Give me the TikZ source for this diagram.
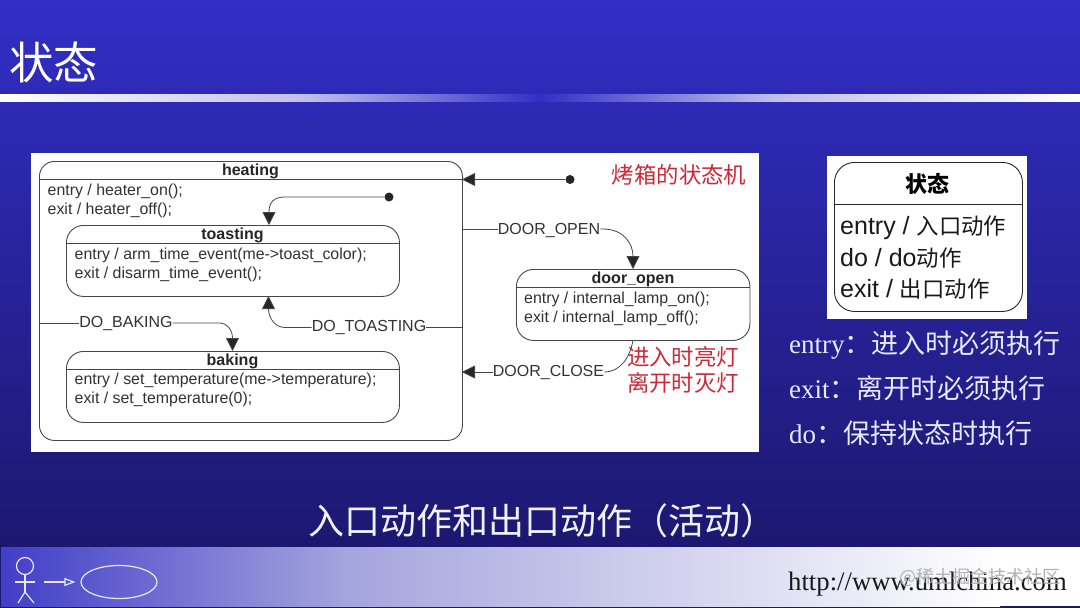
\documentclass[tikz,border=0pt]{standalone}
\usepackage{fontspec}
\setmainfont{Liberation Sans}
\newfontfamily\cjk{Noto Sans CJK SC}
\newfontfamily\serif{Liberation Serif}
\usetikzlibrary{arrows.meta,calc,positioning,shapes.geometric}
\definecolor{lineC}{RGB}{70,70,70}
\definecolor{txtC}{RGB}{50,50,50}
\definecolor{redC}{RGB}{205,40,55}
\definecolor{bgTop}{RGB}{50,46,198}
\definecolor{bgBot}{RGB}{28,24,112}
\definecolor{footL}{RGB}{66,62,200}
\definecolor{footM}{RGB}{165,165,222}
\definecolor{barM}{RGB}{190,190,236}
\definecolor{paleC}{RGB}{232,232,250}
\tikzset{
  x=1pt,y=-1pt,
  statebox/.style={draw=lineC,line width=0.9pt,rounded corners=#1,inner sep=0pt,anchor=north west},
  statebox/.default=17pt,
  sepline/.style={draw=lineC,line width=0.9pt},
  body/.style={font=\fontsize{15.9}{18.8}\selectfont,text=txtC,align=left,anchor=north west,inner sep=0pt},
  stname/.style={font=\bfseries\fontsize{16}{16}\selectfont,text=black!85,inner sep=0pt},
  evt/.style={font=\fontsize{16}{16}\selectfont,text=txtC,inner sep=0pt,fill=white},
  conn/.style={draw=lineC,line width=0.8pt},
  arr/.style={conn,-{Triangle[length=13pt,width=13pt,fill=black!85]}},
  redtxt/.style={font=\cjk\fontsize{22.4}{26}\selectfont,text=redC,inner sep=0pt,align=center},
  dotnode/.style={circle,fill=black!85,minimum size=9pt,inner sep=0pt},
  captxt/.style={font=\serif\fontsize{27}{27}\selectfont,text=paleC,inner sep=0pt,anchor=base west},
  chalk/.style={draw=paleC,line width=1.2pt},
}
\begin{document}
\begin{tikzpicture}
\useasboundingbox (0,0) rectangle (1080,608);
% background
\fill[top color=bgTop,bottom color=bgBot] (0,0) rectangle (1080,547);
\fill[bgBot] (0,547) rectangle (1080,608);
\node[font=\cjk\fontsize{44.5}{44.5}\selectfont,text=white,inner sep=0pt,anchor=west] (title) at (9,62) {状态};
\fill[left color=white,right color=barM] (0,94) rectangle (310,101);
\fill[left color=barM,right color=bgTop] (310,94) rectangle (540,101);
\fill[left color=bgTop,right color=barM] (540,94) rectangle (770,101);
\fill[left color=barM,right color=white] (770,94) rectangle (1080,101);
% panel
\fill[white] (31,153) rectangle (759,452);
% states
\node[statebox=15pt,minimum width=423pt,minimum height=279pt] (heating) at (39,161) {};
\draw[sepline] (39,179.5) coordinate (hl) -- (462,179.5) coordinate (hr);
\node[stname] (heatingN) at (250.5,171.5) {heating};
\node[body] (heatingB) at (47.5,184) {entry / heater\_on();\\exit / heater\_off();};
\node[statebox,minimum width=333pt,minimum height=71pt] (toasting) at (66,225) {};
\draw[sepline] (66,243.5) -- (399,243.5);
\node[stname] (toastingN) at (232.5,235.5) {toasting};
\node[body] (toastingB) at (74.5,248) {entry / arm\_time\_event(me->toast\_color);\\exit / disarm\_time\_event();};
\node[statebox,minimum width=333pt,minimum height=71pt] (baking) at (66,351) {};
\draw[sepline] (66,369) -- (399,369);
\node[stname] (bakingN) at (232.5,361.5) {baking};
\node[body] (bakingB) at (74.5,373) {entry / set\_temperature(me->temperature);\\exit / set\_temperature(0);};
\node[statebox,minimum width=233.5pt,minimum height=71pt] (door) at (516,269) {};
\draw[sepline] (516,287) -- (749.5,287);
\node[stname] (doorN) at (633,279.5) {door\_open};
\node[body] (doorB) at (524,292) {entry / internal\_lamp\_on();\\exit / internal\_lamp\_off();};
% initial states
\node[dotnode] (init1) at (570,179.5) {};
\draw[arr] (init1) -- (hr);
\node[dotnode] (init2) at (389,197) {};
\coordinate (t2) at (269,225);
\draw[arr] (init2) -- (285,197) .. controls (274,197) and (269,202) .. (t2);
% events
\node[evt,text depth=0pt] (open) at (549,229) {DOOR\_OPEN};
\coordinate (h1) at (462,229);
\coordinate (d1) at (633,269);
\draw[conn] (h1) -- (open.west |- h1);
\draw[arr] (open.east |- h1) -- (603,229) .. controls (623,229) and (633,243) .. (d1);
\node[evt] (baked) at (126,323) {DO\_BAKING};
\coordinate (h2) at (39,323);
\coordinate (b1) at (232.5,351);
\draw[conn] (h2) -- (baked.west |- h2);
\draw[arr] (baked.east |- h2) -- (220,323) .. controls (227,323) and (232.5,330) .. (b1);
\node[evt] (toast) at (369,327.5) {DO\_TOASTING};
\coordinate (h3) at (462,327.5);
\coordinate (t1) at (268.5,296);
\draw[conn] (h3) -- (toast.east |- h3);
\draw[arr] (toast.west |- h3) -- (285,327.5) .. controls (275,327.5) and (268.5,318) .. (t1);
\node[evt] (close) at (548.5,372) {DOOR\_CLOSE};
\coordinate (d2) at (633,340);
\coordinate (h4) at (462,372);
\draw[conn] (d2) .. controls (630,358) and (620,372) .. (close.east |- h4);
\draw[arr] (close.west |- h4) -- (h4);
% red notes
\node[redtxt] (n1) at (679,175) {烤箱的状态机};
\node[redtxt] (n2) at (683,370) {进入时亮灯\\离开时灭灯};
% state legend
\fill[white] (827,156) rectangle (1027,319);
\node[statebox=20pt,draw=black!85,minimum width=188pt,minimum height=149pt] (legend) at (834,162) {};
\draw[draw=black!85,line width=0.8pt] (834,204.5) -- (1022,204.5);
\node[font=\cjk\bfseries\fontsize{22}{22}\selectfont,text=black,inner sep=0pt] (legendN) at (927,184) {状态};
\node[font=\fontsize{25}{31.5}\selectfont,text=black!90,align=left,anchor=north west,inner sep=0pt] (legendB) at (840,216)
  {entry / {\cjk\fontsize{22.4}{31.5}\selectfont 入口动作}\\do / do{\cjk\fontsize{22.4}{31.5}\selectfont 动作}\\exit / {\cjk\fontsize{22.4}{31.5}\selectfont 出口动作}};
% captions
\node[captxt] (c1) at (789,353) {entry{\cjk ：进入时必须执行}};
\node[captxt] (c2) at (789,398) {exit{\cjk ：离开时必须执行}};
\node[captxt] (c3) at (789,443) {do{\cjk ：保持状态时执行}};
\node[font=\cjk\fontsize{36}{36}\selectfont,text=white!95!blue,inner sep=0pt] (bottomcap) at (542.5,521) {入口动作和出口动作（活动）};
% footer
\fill[left color=footL,right color=footM] (1,547) rectangle (350,606);
\fill[left color=footM,right color=white] (350,547) rectangle (1000,606);
\fill[white] (1000,547) rectangle (1080,606);
\node[chalk,circle,minimum size=17pt,inner sep=0pt] (head) at (25,566) {};
\coordinate (feet) at (25,592);
\coordinate (armL) at (15,582);
\coordinate (armR) at (35,582);
\coordinate (legL) at (18,603);
\coordinate (legR) at (34,603);
\draw[chalk] (head.south) -- (feet);
\draw[chalk] (armL) -- (armR);
\draw[chalk] (legL) -- (feet) -- (legR);
\node[chalk,ellipse,minimum width=76pt,minimum height=33pt,inner sep=0pt] (usecase) at (119,582) {};
\coordinate (arrowStart) at (44,582);
\draw[chalk,-{Triangle[open,length=11pt,width=8pt]},shorten >=5pt] (arrowStart) -- (usecase.west);
\node[font=\serif\fontsize{26.7}{27}\selectfont,text=black!90,inner sep=0pt,anchor=base west] (url) at (788,590.5) {http://www.umlchina.com};
\node[font=\cjk\fontsize{18}{18}\selectfont,text=black!30,inner sep=0pt] (mark) at (980,577) {@稀土掘金技术社区};
\end{tikzpicture}
\end{document}
